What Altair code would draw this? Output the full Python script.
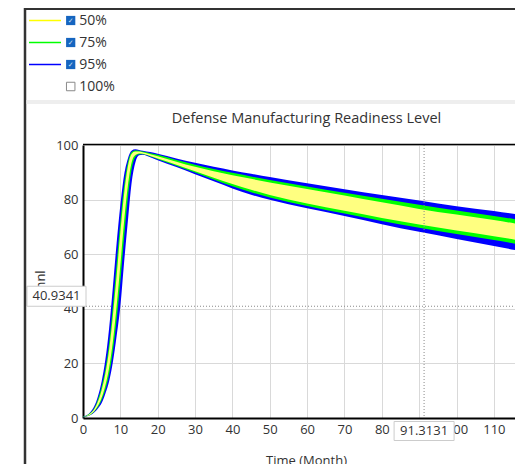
import altair as alt
import pandas as pd

# ---------------- data ----------------
months = [0, 1, 2, 3, 4, 5, 6, 7, 8, 9, 10, 11, 12, 13, 14, 15, 16, 18, 20,
          25, 30, 35, 40, 45, 50, 60, 70, 80, 90, 100, 110, 120]

p95_hi = [0.5, 1.0, 2.2, 4.3, 8.0, 13.5, 21.5, 33, 48, 64, 78, 89, 95, 97.9, 98.4,
          98.2, 97.9, 97.4, 96.8, 95.1, 93.5, 92.0, 90.7, 89.5, 88.3, 86.0, 83.8,
          81.7, 79.7, 77.6, 75.8, 73.8]
p75_hi = [0.45, 0.9, 1.9, 3.6, 6.8, 11.5, 18, 27.5, 41, 56.5, 72, 85, 93.5, 97.3, 98.0,
          97.9, 97.6, 97.0, 96.4, 94.5, 92.8, 91.2, 89.8, 88.5, 87.2, 84.8, 82.5,
          80.3, 78.1, 76.0, 74.0, 71.9]
p50_hi = [0.4, 0.8, 1.7, 3.2, 6.0, 10.3, 16.3, 25, 37.5, 52, 68, 82, 92, 96.7, 97.6,
          97.6, 97.3, 96.6, 95.9, 93.9, 92.0, 90.4, 88.9, 87.6, 86.3, 83.9, 81.5,
          79.0, 76.6, 74.5, 72.5, 70.2]
p50_lo = [0.35, 0.65, 1.3, 2.5, 4.5, 7.5, 12, 18.5, 28, 41, 56, 72, 85, 93.5, 96.3,
          96.9, 96.8, 96.0, 95.1, 92.8, 90.4, 88.0, 85.7, 83.6, 81.7, 78.6, 75.9,
          73.3, 70.9, 68.7, 66.6, 64.3]
p75_lo = [0.32, 0.6, 1.2, 2.3, 4.0, 6.6, 10.5, 16, 24.5, 36, 50, 66, 80.5, 91, 95.6,
          96.6, 96.6, 95.8, 94.8, 92.4, 89.9, 87.4, 84.9, 82.7, 80.8, 77.7, 74.9,
          72.2, 69.7, 67.4, 65.2, 62.8]
p95_lo = [0.3, 0.55, 1.1, 2.0, 3.5, 5.5, 9.0, 13.5, 20.5, 30, 41, 57, 72, 86, 93.5,
          96.2, 96.4, 95.5, 94.4, 91.9, 89.3, 86.7, 84.1, 81.8, 79.9, 76.8, 74.0,
          71.0, 68.2, 65.6, 63.0, 60.4]

legend_labels = ["50%", "75%", "95%", "100%"]
legend_colors = ["#ffff00", "#00ff00", "#0000ff", None]
legend_checked = [True, True, True, False]

x_ticks = [0, 10, 20, 30, 40, 50, 60, 70, 80, 90, 100, 110]
y_ticks = [0, 20, 40, 60, 80, 100]

cross_t = [91.3131]
cross_v = [40.9341]

chart_title = "Defense Manufacturing Readiness Level"
x_title = "Time (Month)"
y_title = "mnl"

# ---------------- tables ----------------
bands = pd.concat([
    pd.DataFrame({"t": months, "lo": p95_lo, "hi": p95_hi, "band": "95%"}),
    pd.DataFrame({"t": months, "lo": p75_lo, "hi": p75_hi, "band": "75%"}),
    pd.DataFrame({"t": months, "lo": p50_lo, "hi": p50_hi, "band": "50%"}),
], ignore_index=True)
cross = pd.DataFrame({"t": cross_t, "lo": cross_v,
                      "tl": [f"{a:.4f}" for a in cross_t],
                      "vl": [f"{a:.4f}" for a in cross_v]})
one = pd.DataFrame({"k": [0]})

FONT = "Open Sans"
TXT = "#333333"
W, H = 432, 273          # plot area (page is 507px wide inside its margins)
X_MAX = 115.65           # visible end of the time axis at the right edge

x_scale = alt.Scale(domain=[0, X_MAX], nice=False, zero=False)
y_scale = alt.Scale(domain=[0, 100], nice=False)
x_axis = alt.Axis(values=x_ticks, title=x_title, grid=True, ticks=False,
                  labelPadding=5, titlePadding=18, labelFlush=False,
                  titleX=223, titleAlign="center", titleAnchor="start")
y_axis = alt.Axis(values=y_ticks, title=y_title, grid=True, ticks=False,
                  labelPadding=5, titlePadding=8, labelFlush=False)
xs = alt.X("t:Q", scale=x_scale, axis=x_axis)
ys = alt.Y("lo:Q", scale=y_scale, axis=y_axis)

band_colors = {"95%": "#0000ff", "75%": "#00ff00", "50%": "#ffff80"}

layers = []

# horizontal crosshair (under the bands)
layers.append(alt.Chart(cross).mark_rule(color="#888888", strokeDash=[1, 2], strokeWidth=1)
              .encode(y=ys, x=alt.value(0), x2=alt.value(W)))

for b in ["95%", "75%", "50%"]:
    layers.append(
        alt.Chart(bands).transform_filter(alt.datum.band == b)
        .mark_area(color=band_colors[b], interpolate="monotone", clip=True, opacity=1)
        .encode(x=xs, y=ys, y2="hi:Q")
    )

# vertical crosshair (over the bands)
layers.append(alt.Chart(cross).mark_rule(color="#888888", strokeDash=[1, 2], strokeWidth=1)
              .encode(x=xs, y=alt.value(0), y2=alt.value(H)))

# plot top border
layers.append(alt.Chart(one).mark_rule(color="#000000", strokeWidth=1.5)
              .encode(x=alt.value(0), x2=alt.value(W), y=alt.value(-0.5)))

# crosshair value boxes
box_y_path = "M-1,-0.339L1,-0.339L1,0.339L-1,0.339Z"
box_x_path = "M-1,-0.317L1,-0.317L1,0.317L-1,0.317Z"
layers.append(alt.Chart(cross).mark_point(shape=box_y_path, filled=True, fill="white",
                                          stroke="#cccccc", strokeWidth=1, size=59 * 59,
                                          opacity=1, yOffset=-10)
              .encode(y=ys, x=alt.value(-26.5)))
layers.append(alt.Chart(cross).mark_text(font=FONT, fontSize=13, color=TXT, dy=-10)
              .encode(y=ys, x=alt.value(-26.5), text="vl:N"))
layers.append(alt.Chart(cross).mark_point(shape=box_x_path, filled=True, fill="white",
                                          stroke="#cccccc", strokeWidth=1, size=60 * 60,
                                          opacity=1)
              .encode(x=xs, y=alt.value(H + 13)))
layers.append(alt.Chart(cross).mark_text(font=FONT, fontSize=13, color=TXT)
              .encode(x=xs, y=alt.value(H + 13), text="tl:N"))

# chart title
layers.append(alt.Chart(one).mark_text(font=FONT, fontSize=14.5, color=TXT, align="center",
                                       baseline="middle")
              .encode(x=alt.value(223.5), y=alt.value(-26), text=alt.value(chart_title)))

# panel frame and separator
layers.append(alt.Chart(one).mark_rule(color="#333333", strokeWidth=2.5)
              .encode(x=alt.value(-58), y=alt.value(-137), y2=alt.value(H + 46)))
layers.append(alt.Chart(one).mark_rule(color="#333333", strokeWidth=2)
              .encode(x=alt.value(-59), x2=alt.value(W), y=alt.value(-136)))
layers.append(alt.Chart(one).mark_rect(color="#eeeeee")
              .encode(x=alt.value(-56.5), x2=alt.value(W), y=alt.value(-45), y2=alt.value(-41)))

# custom legend (line, checkbox, label)
for i, (lab, col, chk) in enumerate(zip(legend_labels, legend_colors, legend_checked)):
    ry = -124.5 + 22 * i
    if col:
        layers.append(alt.Chart(one).mark_rule(color=col, strokeWidth=1.5)
                      .encode(x=alt.value(-54), x2=alt.value(-22), y=alt.value(ry)))
    if chk:
        layers.append(alt.Chart(one).mark_square(color="#1565c0", size=85, opacity=1)
                      .encode(x=alt.value(-12.3), y=alt.value(ry)))
        layers.append(alt.Chart(one).mark_text(font="DejaVu Sans", fontSize=7, color="#cfe0f5",
                                               align="center", baseline="middle")
                      .encode(x=alt.value(-12.3), y=alt.value(ry + 0.5), text=alt.value("✓")))
    else:
        layers.append(alt.Chart(one).mark_square(filled=False, stroke="#8a8a8a", strokeWidth=1,
                                                 size=72, opacity=1)
                      .encode(x=alt.value(-12.3), y=alt.value(ry)))
    layers.append(alt.Chart(one).mark_text(font=FONT, fontSize=14, color=TXT, align="left",
                                           baseline="middle")
                  .encode(x=alt.value(-3.7), y=alt.value(ry), text=alt.value(lab)))

chart = alt.layer(*layers).properties(
    width=W, height=H,
    padding={"left": 75, "top": 137, "right": 0, "bottom": 46},
    autosize=alt.AutoSizeParams(type="none"),
    background="white",
).configure_view(stroke=None).configure_axis(
    labelFont=FONT, labelFontSize=13, labelColor=TXT,
    titleFont=FONT, titleFontSize=13, titleColor=TXT, titleFontWeight="normal",
    domainColor="#000000", domainWidth=2, gridColor="#d9d9d9", gridWidth=1,
)

chart.save("out.html", embed_options={"renderer": "svg", "actions": False})
